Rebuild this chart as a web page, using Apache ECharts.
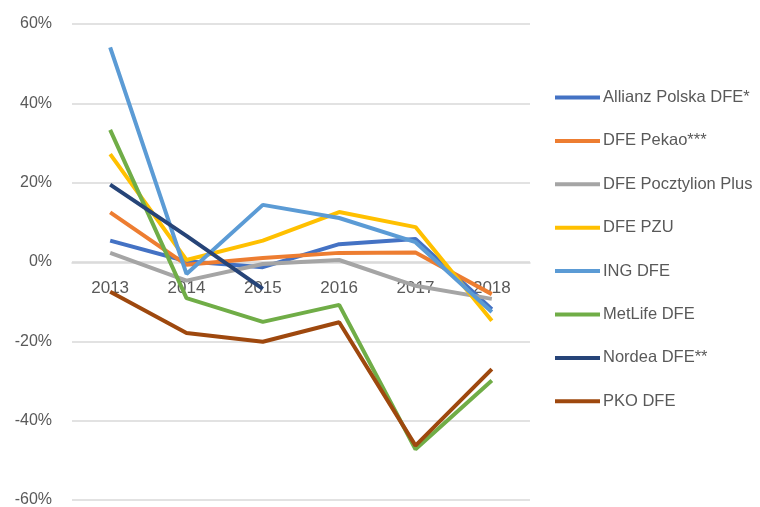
<!DOCTYPE html>
<html>
<head>
<meta charset="utf-8">
<script src="https://cdn.jsdelivr.net/npm/echarts@6/dist/echarts.min.js"></script>
<style>
  html, body { margin: 0; padding: 0; background: #fff; }
  #chart { width: 760px; height: 507px; }
</style>
</head>
<body>
<div id="chart"></div>
<script>
// years on the category axis
var years = ['2013', '2014', '2015', '2016', '2017', '2018'];

// yearly returns, in %
var allianz    = [5.4, 0.2, -1.3, 4.5, 5.8, -11.9];
var pekao      = [12.5, -0.7, 1.0, 2.3, 2.4, -8.1];
var pocztylion = [2.3, -4.7, -0.5, 0.5, -6.0, -9.3];
var pzu        = [27.2, 0.5, 5.4, 12.6, 8.8, -14.8];
var ing        = [54.1, -3.0, 14.4, 11.1, 5.0, -12.6];
var metlife    = [33.3, -9.1, -15.1, -10.8, -47.2, -29.9];
var nordea     = [19.5, 6.6, -6.8, null, null, null];
var pko        = [-7.5, -17.9, -20.1, -15.2, -46.3, -27.0];

var names = ['Allianz Polska DFE*', 'DFE Pekao***', 'DFE Pocztylion Plus', 'DFE PZU',
             'ING DFE', 'MetLife DFE', 'Nordea DFE**', 'PKO DFE'];
var colors = ['#4472C4', '#ED7D31', '#A5A5A5', '#FFC000',
              '#5B9BD5', '#70AD47', '#264478', '#9E480E'];
var values = [allianz, pekao, pocztylion, pzu, ing, metlife, nordea, pko];

var font = 'Liberation Sans';

var series = names.map(function (n, i) {
    return {
        name: n,
        type: 'line',
        data: values[i],
        symbol: 'none',
        connectNulls: false,
        lineStyle: { width: 4, color: colors[i] },
        itemStyle: { color: colors[i] }
    };
});

var option = {
    animation: false,
    color: colors,
    grid: { left: 72, right: 230, top: 24, bottom: 7, outerBoundsMode: 'none', containLabel: false },
    legend: {
        orient: 'vertical',
        left: 555,
        top: 88,
        padding: 0,
        icon: 'rect',
        itemWidth: 45,
        itemHeight: 4,
        itemGap: 24.4,
        textStyle: { fontFamily: font, fontSize: 16.5, color: '#595959', lineHeight: 19, padding: [0, 0, 0, -2] },
        data: names
    },
    xAxis: {
        type: 'category',
        data: years,
        offset: -237,
        axisLine: { onZero: false, lineStyle: { color: '#d9d9d9', width: 1.5 } },
        axisTick: { show: false },
        axisLabel: { fontFamily: font, fontSize: 17, color: '#595959', margin: 17 }
    },
    yAxis: {
        type: 'value',
        min: -60,
        max: 60,
        interval: 20,
        axisLine: { show: false },
        axisTick: { show: false },
        splitLine: { lineStyle: { color: '#d9d9d9', width: 1.5 } },
        axisLabel: { fontFamily: font, fontSize: 16, color: '#595959', margin: 20, formatter: '{value}%' }
    },
    series: series
};

var chart = echarts.init(document.getElementById('chart'));
chart.setOption(option);
</script>
</body>
</html>
